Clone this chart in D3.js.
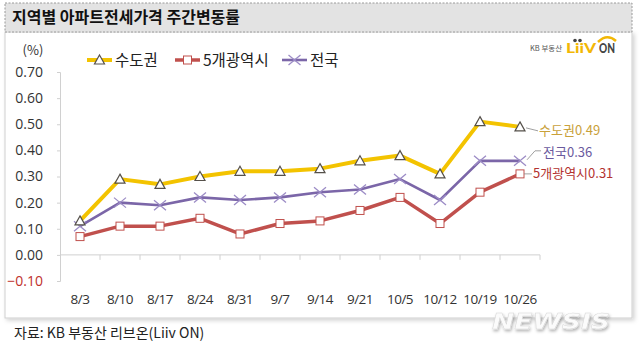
<!DOCTYPE html>
<html>
<head>
<meta charset="utf-8">
<script src="https://cdn.jsdelivr.net/npm/d3@7"></script>
<style>
  html, body { margin: 0; padding: 0; background: #fff; }
  svg { display: block; font-family: "Noto Sans CJK KR", "Noto Sans", sans-serif; }
</style>
</head>
<body>
<svg id="chart" width="640" height="347"></svg>
<script>
// Weekly change of apartment jeonse prices by region (%)
const weeks = ["8/3", "8/10", "8/17", "8/24", "8/31", "9/7", "9/14", "9/21", "10/5", "10/12", "10/19", "10/26"];
const capitalArea = [0.13, 0.29, 0.27, 0.30, 0.32, 0.32, 0.33, 0.36, 0.38, 0.31, 0.51, 0.49];
const fiveMetros  = [0.07, 0.11, 0.11, 0.14, 0.08, 0.12, 0.13, 0.17, 0.22, 0.12, 0.24, 0.31];
const nationwide  = [0.11, 0.20, 0.19, 0.22, 0.21, 0.22, 0.24, 0.25, 0.29, 0.21, 0.36, 0.36];
const yTicks = [-0.1, 0, 0.1, 0.2, 0.3, 0.4, 0.5, 0.6, 0.7];
const seriesNames = ["수도권", "5개광역시", "전국"];

const svg = d3.select("#chart");

// drop shadows for the panel and the watermark
const defs = svg.append("defs");
const sh = defs.append("filter").attr("id", "shadow").attr("x", "-5%").attr("y", "-5%").attr("width", "115%").attr("height", "125%");
sh.append("feDropShadow").attr("dx", 2).attr("dy", 2).attr("stdDeviation", 2).attr("flood-color", "#000").attr("flood-opacity", 0.18);
const wsh = defs.append("filter").attr("id", "wshadow").attr("x", "-10%").attr("y", "-40%").attr("width", "130%").attr("height", "200%");
wsh.append("feDropShadow").attr("dx", 1).attr("dy", 2).attr("stdDeviation", 1.5).attr("flood-color", "#000").attr("flood-opacity", 0.3);

// panel
svg.append("rect").attr("x", 5).attr("y", 32).attr("width", 627).attr("height", 286)
  .attr("fill", "#fff").attr("stroke", "#cfcfcf").attr("filter", "url(#shadow)");

// title bar
svg.append("rect").attr("x", 5).attr("y", 3).attr("width", 627).attr("height", 29)
  .attr("fill", "#e3e3e3").attr("stroke", "#9a9a9a").attr("stroke-dasharray", "2,1.5");
svg.append("text").attr("x", 12).attr("y", 23).attr("font-size", 16).attr("font-weight", 700)
  .attr("fill", "#111").text("지역별 아파트전세가격 주간변동률");

// logo
const logo = svg.append("g");
logo.append("text").attr("x", 530).attr("y", 51).attr("font-size", 7).attr("fill", "#555")
  .attr("textLength", 32).attr("lengthAdjust", "spacingAndGlyphs").text("KB 부동산");
logo.append("text").attr("x", 566).attr("y", 53).attr("font-size", 14).attr("font-weight", 900)
  .attr("font-family", "Lato, 'DejaVu Sans', sans-serif").attr("fill", "#f2b705")
  .attr("textLength", 30).attr("lengthAdjust", "spacingAndGlyphs").text("LiiV");
logo.append("text").attr("x", 599).attr("y", 53).attr("font-size", 13).attr("font-weight", 900)
  .attr("font-family", "Lato, 'DejaVu Sans', sans-serif").attr("fill", "#444")
  .attr("textLength", 16).attr("lengthAdjust", "spacingAndGlyphs").text("ON");
logo.append("path").attr("d", "M598,42 Q607,33 616,41").attr("fill", "none").attr("stroke", "#f2b705").attr("stroke-width", 2.5);
logo.append("circle").attr("cx", 575).attr("cy", 40.5).attr("r", 1.8).attr("fill", "#444");
logo.append("circle").attr("cx", 580).attr("cy", 40.5).attr("r", 1.8).attr("fill", "#444");

// scales
const x = d3.scaleBand().domain(weeks).range([60, 540]);
const cx = d => x(d) + x.bandwidth() / 2;
const y = d3.scaleLinear().domain([-0.1, 0.7]).range([281, 72]);

// y axis
const yAxis = svg.append("g").attr("transform", "translate(60,0)")
  .call(d3.axisLeft(y).tickValues(yTicks).tickFormat(d3.format(".2f")).tickSize(3).tickPadding(14));
yAxis.select(".domain").attr("stroke", "#d0d0d0");
yAxis.selectAll(".tick line").attr("stroke", "#d0d0d0");
yAxis.selectAll(".tick text").attr("font-size", 14).attr("fill", d => d < 0 ? "#c0302b" : "#333")
  .attr("font-family", "'Open Sans', 'Noto Sans', sans-serif");
svg.append("text").attr("x", 33).attr("y", 55).attr("text-anchor", "middle").attr("font-size", 13)
  .attr("fill", "#333").text("(%)");

// x axis line at zero with ticks between categories
const y0 = y(0);
svg.append("line").attr("x1", 60).attr("x2", 540).attr("y1", y0).attr("y2", y0).attr("stroke", "#d0d0d0");
svg.append("g").selectAll("line").data(weeks.slice(1).map(w => x(w)).concat([x.range()[1]]))
  .join("line").attr("x1", d => d).attr("x2", d => d).attr("y1", y0).attr("y2", y0 + 5).attr("stroke", "#d0d0d0");

// category labels
const xAxis = svg.append("g").attr("transform", `translate(0,${y0})`)
  .call(d3.axisBottom(x).tickSize(0).tickPadding(40));
xAxis.select(".domain").remove();
xAxis.selectAll(".tick text").attr("font-size", 13.5).attr("fill", "#333")
  .attr("font-family", "'Open Sans', 'Noto Sans', sans-serif").style("letter-spacing", "-0.5px");

// series
const series = [
  { name: seriesNames[0], values: capitalArea, color: "#f3c300", width: 4, marker: "tri", label: "#c9a13a" },
  { name: seriesNames[1], values: fiveMetros, color: "#c0504d", width: 3.5, marker: "sq", label: "#b3322f" },
  { name: seriesNames[2], values: nationwide, color: "#7b66a8", width: 2.6, marker: "x", label: "#6a5a9e" }
];

const line = d3.line().x((d, i) => cx(weeks[i])).y(d => y(d));

function drawMarker(g, kind, px, py) {
  if (kind === "tri") {
    g.append("path").attr("d", `M${px},${py - 5} L${px + 5},${py + 4} L${px - 5},${py + 4} Z`)
      .attr("fill", "#fff").attr("stroke", "#55504a").attr("stroke-width", 1.2);
  } else if (kind === "sq") {
    g.append("rect").attr("x", px - 4).attr("y", py - 4).attr("width", 8).attr("height", 8)
      .attr("fill", "#fff").attr("stroke", "#c0504d").attr("stroke-width", 1);
  } else {
    g.append("path").attr("d", `M${px - 6},${py - 5} L${px + 6},${py + 5} M${px - 6},${py + 5} L${px + 6},${py - 5}`)
      .attr("stroke", "#9c8cc6").attr("stroke-width", 1.3);
  }
}

// lines and markers, yellow drawn last so it sits on top
[series[1], series[2], series[0]].forEach(s => {
  svg.append("path").datum(s.values).attr("d", line).attr("fill", "none")
    .attr("stroke", s.color).attr("stroke-width", s.width).attr("stroke-linejoin", "round");
  const mg = svg.append("g");
  s.values.forEach((v, i) => drawMarker(mg, s.marker, cx(weeks[i]), y(v)));
});

// end labels with leader lines
const last = weeks.length - 1;
const lx = cx(weeks[last]);
const endLabels = [
  { s: series[0], tx: 539, ty: y(series[0].values[last]) + 4, lead: v => `M${lx + 6},${y(v) + 1} L${lx + 18},${y(v) + 4}` },
  { s: series[2], tx: 543, ty: y(series[2].values[last]) - 8, lead: v => `M${lx + 7},${y(v) - 1} L${lx + 15},${y(v) - 10} L${lx + 21},${y(v) - 10}` },
  { s: series[1], tx: 533, ty: y(series[1].values[last]), lead: v => `M${lx + 4},${y(v)} L${lx + 12},${y(v)}` }
];
endLabels.forEach(e => {
  const v = e.s.values[last];
  svg.append("path").attr("d", e.lead(v)).attr("fill", "none").attr("stroke", "#888").attr("stroke-width", 0.8);
  svg.append("text").attr("x", e.tx).attr("y", e.ty).attr("dy", "0.35em").attr("font-size", 13)
    .attr("fill", e.s.label).text(e.s.name + d3.format(".2f")(v));
});

// legend
const legendItems = [
  { s: series[0], x0: 87 },
  { s: series[1], x0: 175 },
  { s: series[2], x0: 282 }
];
legendItems.forEach(li => {
  const ly = 60;
  svg.append("line").attr("x1", li.x0).attr("x2", li.x0 + 25).attr("y1", ly).attr("y2", ly)
    .attr("stroke", li.s.color).attr("stroke-width", li.s.width);
  drawMarker(svg.append("g"), li.s.marker, li.x0 + 12.5, ly);
  svg.append("text").attr("x", li.x0 + 28).attr("y", ly).attr("dy", "0.36em").attr("font-size", 15.5)
    .attr("fill", "#222").text(li.s.name);
});

// source note
svg.append("text").attr("x", 14).attr("y", 338).attr("font-size", 14).attr("fill", "#222")
  .text("자료: KB 부동산  리브온(Liiv ON)");

// agency watermark
svg.append("text").attr("x", 492).attr("y", 329).attr("font-size", 22).attr("font-weight", 900)
  .attr("font-style", "italic").attr("font-family", "'DejaVu Sans', sans-serif")
  .attr("textLength", 118).attr("lengthAdjust", "spacingAndGlyphs")
  .attr("fill", "#fbfbfb").attr("stroke", "#d9d9d9").attr("stroke-width", 0.5)
  .attr("filter", "url(#wshadow)").text("NEWSIS");
</script>
</body>
</html>
